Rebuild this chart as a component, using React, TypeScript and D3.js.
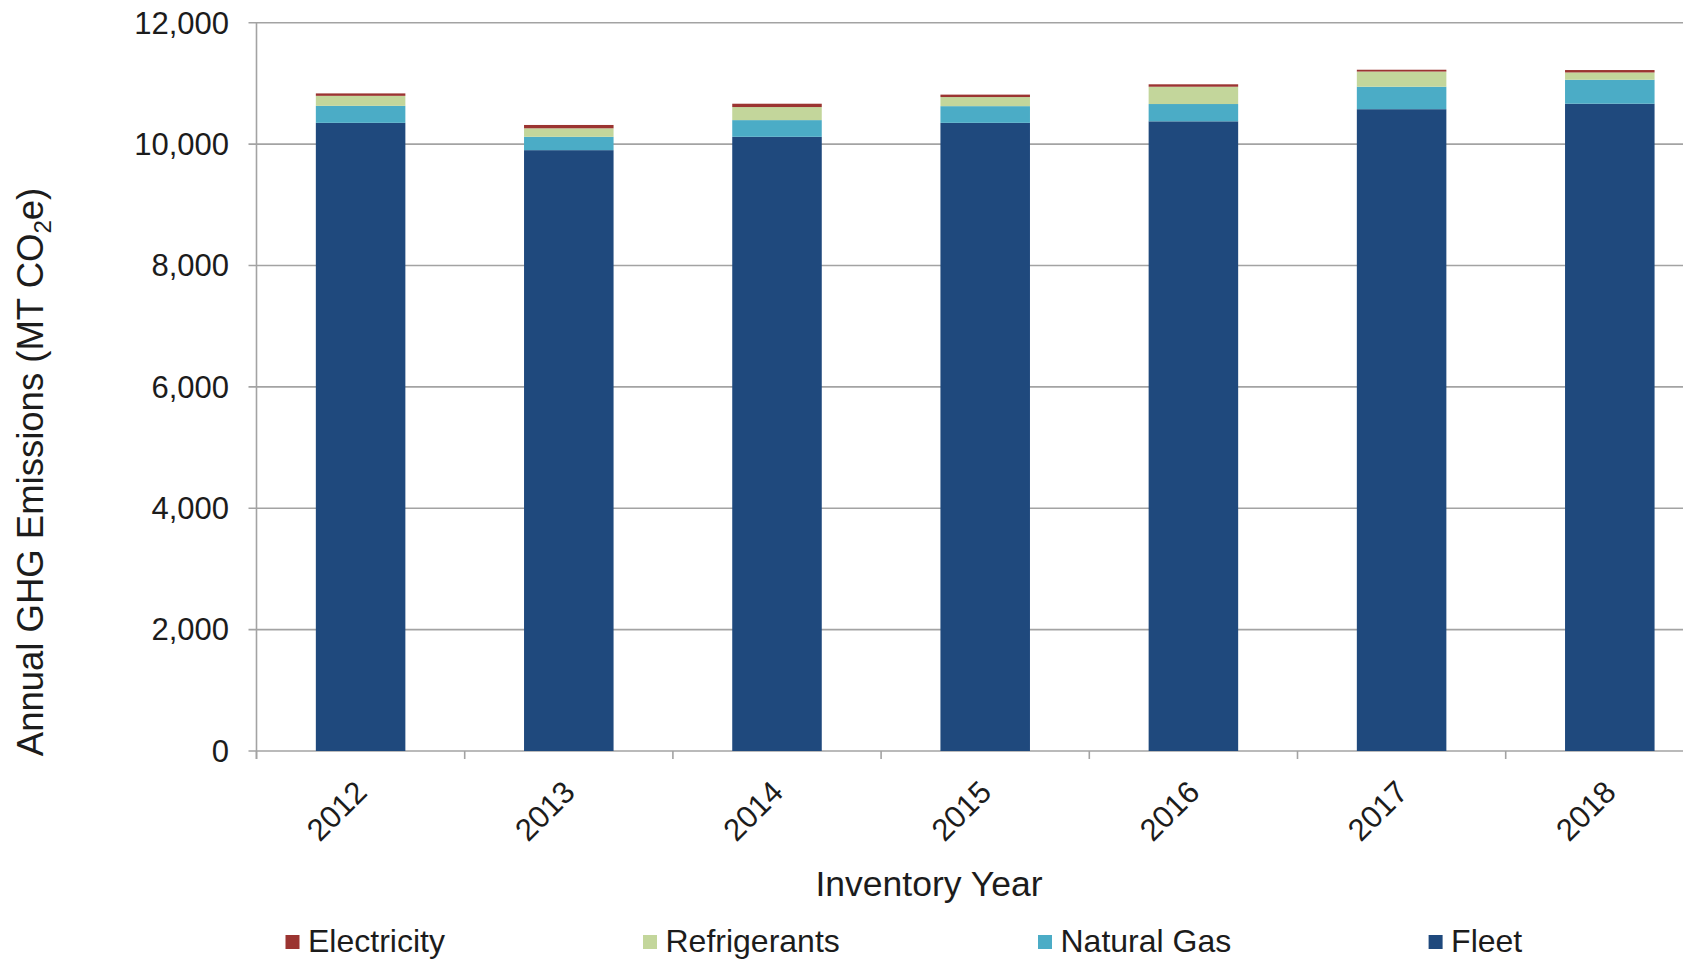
import React from 'react';
import * as d3 from 'd3';

// Annual GHG emissions by source (MT CO2e)
const years = ['2012', '2013', '2014', '2015', '2016', '2017', '2018'];
const fleet = [10350, 9900, 10120, 10350, 10375, 10575, 10665];
const naturalGas = [280, 220, 275, 275, 285, 370, 395];
const refrigerants = [165, 140, 215, 150, 285, 250, 120];
const electricity = [40, 55, 55, 40, 40, 30, 40];

const yTicks = [0, 2000, 4000, 6000, 8000, 10000, 12000];

// stacking order, bottom to top
const seriesKeys = ['Fleet', 'Natural Gas', 'Refrigerants', 'Electricity'];
const seriesColors: Record<string, string> = {
  Fleet: '#1f497d',
  'Natural Gas': '#4bacc6',
  Refrigerants: '#c3d69b',
  Electricity: '#9b3431',
};
const legendOrder = ['Electricity', 'Refrigerants', 'Natural Gas', 'Fleet'];

// layout
const W = 1683;
const H = 960;
const axisX = 256.5;
const step = 208.2;
const yTop = 22.7;
const yBottom = 751;
const legendX = [285.5, 643, 1038, 1428.6];
const FONT = '"Liberation Sans", Arial, Helvetica, sans-serif';
const TEXT = '#1c1c1c';
const GRID = '#a3a3a3';

export default function App() {
  const rows = years.map((year, i) => ({
    year,
    Fleet: fleet[i],
    'Natural Gas': naturalGas[i],
    Refrigerants: refrigerants[i],
    Electricity: electricity[i],
  }));

  const x = d3
    .scaleBand<string>()
    .domain(years)
    .range([axisX, axisX + step * years.length])
    .paddingInner(0.57)
    .paddingOuter(0.285);

  const y = d3.scaleLinear().domain([0, 12000]).range([yBottom, yTop]);

  const stacked = d3.stack<any>().keys(seriesKeys)(rows);

  const boundaries = d3.range(years.length + 1).map((k) => axisX + k * step);
  const fmt = d3.format(',');

  return (
    <svg
      width={W}
      height={H}
      style={{ position: 'absolute', left: 0, top: 0, background: '#fff', overflow: 'hidden' }}
      fontFamily={FONT}
    >
      <rect x={0} y={0} width={W} height={H} fill="#fff" />

      {/* horizontal gridlines and y ticks */}
      {yTicks.map((t) => (
        <g key={t}>
          <line x1={axisX - 8} x2={W} y1={y(t)} y2={y(t)} stroke={GRID} strokeWidth={1.6} />
          <text
            x={229}
            y={y(t)}
            dy="0.35em"
            textAnchor="end"
            fontSize={31}
            fill={TEXT}
          >
            {fmt(t)}
          </text>
        </g>
      ))}

      {/* y axis line */}
      <line x1={axisX} x2={axisX} y1={yTop} y2={yBottom + 8} stroke={GRID} strokeWidth={1.6} />

      {/* x axis tick marks at band boundaries */}
      {boundaries.map((bx, k) => (
        <line key={k} x1={bx} x2={bx} y1={yBottom} y2={yBottom + 8} stroke={GRID} strokeWidth={1.6} />
      ))}

      {/* stacked bars */}
      {stacked.map((layer) => (
        <g key={layer.key} fill={seriesColors[layer.key]}>
          {layer.map((d, i) => (
            <rect
              key={years[i]}
              x={x(years[i])}
              width={x.bandwidth()}
              y={y(d[1])}
              height={y(d[0]) - y(d[1])}
            />
          ))}
        </g>
      ))}

      {/* x tick labels */}
      {years.map((yr) => {
        const cx = (x(yr) as number) + x.bandwidth() / 2 + 8;
        return (
          <text
            key={yr}
            transform={`translate(${cx},794) rotate(-45)`}
            textAnchor="end"
            fontSize={31}
            fill={TEXT}
          >
            {yr}
          </text>
        );
      })}

      {/* axis titles */}
      <text x={929} y={896} textAnchor="middle" fontSize={35.5} fill={TEXT}>
        Inventory Year
      </text>
      <text
        transform="rotate(-90)"
        x={-472}
        y={43}
        textAnchor="middle"
        fontSize={36.5}
        fill={TEXT}
      >
        Annual GHG Emissions (MT CO
        <tspan fontSize={24} dy={8}>
          2
        </tspan>
        <tspan dy={-8}>e)</tspan>
      </text>

      {/* legend */}
      {legendOrder.map((name, i) => (
        <g key={name}>
          <rect x={legendX[i]} y={935} width={14} height={14} fill={seriesColors[name]} />
          <text x={legendX[i] + 22.5} y={952} fontSize={32} fill={TEXT}>
            {name}
          </text>
        </g>
      ))}
    </svg>
  );
}
